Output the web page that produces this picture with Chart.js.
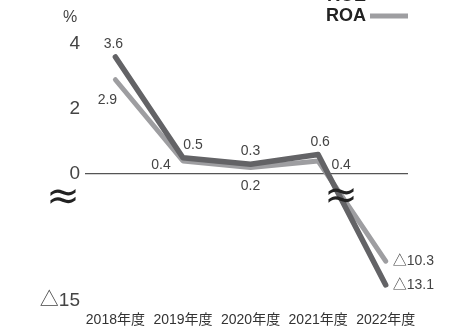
<!DOCTYPE html>
<html>
<head>
<meta charset="utf-8">
<script src="https://cdn.jsdelivr.net/npm/chart.js@4"></script>
<style>
  html, body { margin: 0; padding: 0; background: #fff; }
  #wrap { width: 451px; height: 330px; }
</style>
</head>
<body>
<div id="wrap"><canvas id="c" width="451" height="330"></canvas></div>
<script>
// data
const years = ["2018年度", "2019年度", "2020年度", "2021年度", "2022年度"];
const roe = [3.6, 0.5, 0.3, 0.6, -13.1];
const roa = [2.9, 0.4, 0.2, 0.4, -10.3];
const yTicks = [4, 2, 0, -15];

// below zero the axis is compressed (broken axis)
const K = 0.2605;

class BrokenScale extends Chart.LinearScale {
    getPixelForValue(value) {
        return super.getPixelForValue(value >= 0 ? value : value * K);
    }
}
BrokenScale.id = "broken";
BrokenScale.defaults = Chart.LinearScale.defaults;
Chart.register(BrokenScale);

const fmt = v => (v < 0 ? "△" + Math.abs(v) : String(v));
const FONT = "'Liberation Sans', 'Noto Sans CJK JP', sans-serif";

// label offsets (dx, dy, align) per point
const labelPos = {
    0: [[-2, -13, "center"], [10, -13, "center"], [0, -13, "center"], [2, -12, "center"], [7, 0, "left"]],
    1: [[-8, 20, "center"], [-22, 4, "center"], [0, 19, "center"], [23, 4, "center"], [7, 0, "left"]],
};

const valueLabels = {
    id: "valueLabels",
    afterDatasetsDraw(chart) {
        const c = chart.ctx;
        c.save();
        c.font = "14px " + FONT;
        c.fillStyle = "#444";
        c.textBaseline = "middle";
        chart.data.datasets.forEach((ds, di) => {
            chart.getDatasetMeta(di).data.forEach((pt, i) => {
                const [dx, dy, al] = labelPos[di][i];
                c.textAlign = al;
                c.fillText(fmt(ds.data[i].y), pt.x + dx, pt.y + dy);
            });
        });
        c.restore();
    }
};

const decorations = {
    id: "decorations",
    afterDraw(chart) {
        const c = chart.ctx;
        const x = chart.scales.x, y = chart.scales.y;
        c.save();
        // unit
        c.font = "16px " + FONT;
        c.fillStyle = "#444";
        c.textAlign = "center";
        c.textBaseline = "middle";
        c.fillText("%", 70, y.getPixelForValue(4) - 26);
        // break marks
        c.font = "40px 'DejaVu Sans', sans-serif";
        c.fillStyle = "#222";
        c.fillText("≈", 63, y.getPixelForValue(-2.9));
        c.fillText("≈", x.getPixelForValue(3.34), y.getPixelForValue(-2.8));
        // legend
        c.font = "bold 18px 'Liberation Sans', sans-serif";
        c.textAlign = "right";
        chart.data.datasets.forEach((ds, i) => {
            const ly = 16 - (chart.data.datasets.length - 1 - i) * 20;
            c.fillStyle = "#222";
            c.fillText(ds.label, 366, ly);
            c.fillStyle = ds.borderColor;
            c.fillRect(370, ly - 2.5, 38, 5);
        });
        c.restore();
    }
};

new Chart(document.getElementById("c"), {
    type: "line",
    data: {
        datasets: [
            { label: "ROE", data: roe.map((v, i) => ({ x: i, y: v })), borderColor: "#636366", borderWidth: 5.5 },
            { label: "ROA", data: roa.map((v, i) => ({ x: i, y: v })), borderColor: "#9e9ea1", borderWidth: 5 },
        ]
    },
    options: {
        responsive: false,
        animation: false,
        layout: { padding: { top: 44, right: 43, left: 0, bottom: 0 } },
        elements: {
            point: { radius: 0 },
            line: { tension: 0, borderCapStyle: "round", borderJoinStyle: "round" }
        },
        datasets: { line: { clip: false } },
        plugins: { legend: { display: false }, tooltip: { enabled: false } },
        scales: {
            x: {
                type: "linear",
                min: -0.45,
                max: 4.33,
                afterBuildTicks: s => { s.ticks = years.map((_, i) => ({ value: i })); },
                afterFit: s => { s.height = 29; },
                border: { display: false },
                grid: { display: false, drawTicks: false },
                ticks: {
                    padding: 11,
                    color: "#333",
                    font: { family: FONT, size: 14 },
                    maxRotation: 0,
                    autoSkip: false,
                    callback: v => years[v]
                }
            },
            y: {
                type: "broken",
                min: -15 * K,
                max: 4,
                afterBuildTicks: s => { s.ticks = yTicks.map(v => ({ value: v })); },
                afterFit: s => { s.width = 85; },
                border: { display: false },
                grid: {
                    drawTicks: false,
                    color: ctx => (ctx.tick && ctx.tick.value === 0 ? "#555" : "transparent"),
                    lineWidth: 1.3
                },
                ticks: {
                    padding: 5,
                    color: "#444",
                    font: { family: FONT, size: 19 },
                    callback: v => fmt(v)
                }
            }
        }
    },
    plugins: [valueLabels, decorations]
});
</script>
</body>
</html>
